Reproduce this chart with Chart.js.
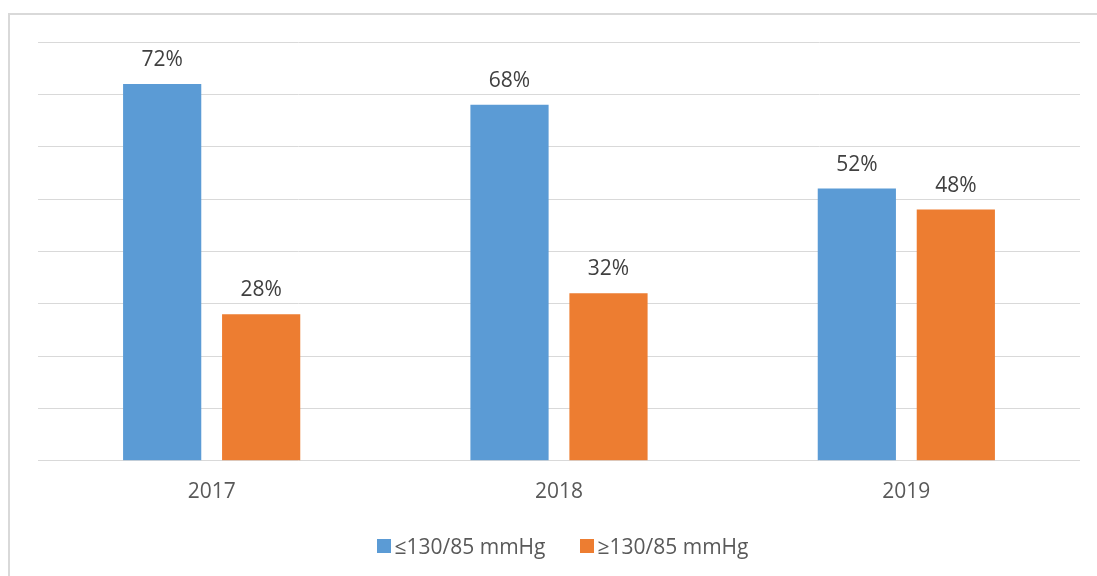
<!DOCTYPE html>
<html>
<head>
<meta charset="utf-8">
<script src="https://cdn.jsdelivr.net/npm/chart.js@4.4.1/dist/chart.umd.min.js"></script>
<style>
  html, body { margin: 0; padding: 0; background: #ffffff; }
  body { width: 1097px; height: 576px; position: relative; overflow: hidden; font-family: 'Open Sans', 'Liberation Sans', sans-serif; }
  /* light frame round the chart, running off the right and bottom edges */
  .frame {
    position: absolute; left: 8px; top: 13px; width: 1100px; height: 580px;
    border: 2px solid #d9d9d9; box-sizing: border-box;
  }
  .wrap { position: absolute; left: 0; top: 0; width: 1097px; height: 576px; }
  #legend {
    position: absolute; left: 28px; top: 532px; width: 1069px; height: 28px;
    display: flex; justify-content: center; align-items: center;
    font-size: 21px; color: #595959;
  }
  #legend .item { display: flex; align-items: center; margin: 0 17px; }
  #legend .box { width: 14px; height: 14px; margin-right: 4px; }
</style>
</head>
<body>
<div class="frame"></div>
<div class="wrap"><canvas id="bpChart"></canvas></div>
<div id="legend"></div>
<script>
// ── DATA ─────────────────────────────────────────────────────────
const YEARS = ['2017', '2018', '2019'];
const SERIES_LABELS = ['≤130/85 mmHg', '≥130/85 mmHg'];
const BELOW_130 = [72, 68, 52];
const ABOVE_130 = [28, 32, 48];

const BLUE = '#5b9bd5';
const ORANGE = '#ed7d31';
const FONT = "'Open Sans', 'Liberation Sans', sans-serif";

// ── VALUE LABELS ABOVE BARS ──────────────────────────────────────
const barLabels = {
  id: 'barLabels',
  afterDatasetsDraw(chart) {
    const ctx = chart.ctx;
    ctx.save();
    ctx.font = `21px ${FONT}`;
    ctx.fillStyle = '#404040';
    ctx.textAlign = 'center';
    ctx.textBaseline = 'middle';
    chart.data.datasets.forEach((ds, di) => {
      chart.getDatasetMeta(di).data.forEach((bar, i) => {
        ctx.fillText(ds.data[i] + '%', bar.x, bar.y - 24);
      });
    });
    ctx.restore();
  }
};

const chart = new Chart(document.getElementById('bpChart'), {
  type: 'bar',
  data: {
    labels: YEARS,
    datasets: [
      { label: SERIES_LABELS[0], data: BELOW_130, backgroundColor: BLUE },
      { label: SERIES_LABELS[1], data: ABOVE_130, backgroundColor: ORANGE },
    ]
  },
  options: {
    responsive: true,
    maintainAspectRatio: false,
    animation: false,
    devicePixelRatio: 1,
    categoryPercentage: 0.57,
    barPercentage: 0.79,
    layout: { padding: { left: 38, right: 17, top: 42, bottom: 52 } },
    scales: {
      x: {
        grid: { display: false, drawTicks: false },
        border: { display: false },
        ticks: { color: '#595959', font: { family: FONT, size: 21 }, padding: 19 }
      },
      y: {
        min: 0,
        max: 80,
        ticks: { display: false, stepSize: 10 },
        grid: { color: '#d9d9d9', lineWidth: 1, drawTicks: false },
        border: { display: false }
      }
    },
    plugins: {
      legend: { display: false },
      tooltip: { enabled: false }
    }
  },
  plugins: [barLabels]
});

// ── LEGEND (HTML, built from the datasets) ───────────────────────
const legendEl = document.getElementById('legend');
chart.data.datasets.forEach(ds => {
  const item = document.createElement('div');
  item.className = 'item';
  const box = document.createElement('span');
  box.className = 'box';
  box.style.background = ds.backgroundColor;
  const text = document.createElement('span');
  text.textContent = ds.label;
  item.appendChild(box);
  item.appendChild(text);
  legendEl.appendChild(item);
});
</script>
</body>
</html>
